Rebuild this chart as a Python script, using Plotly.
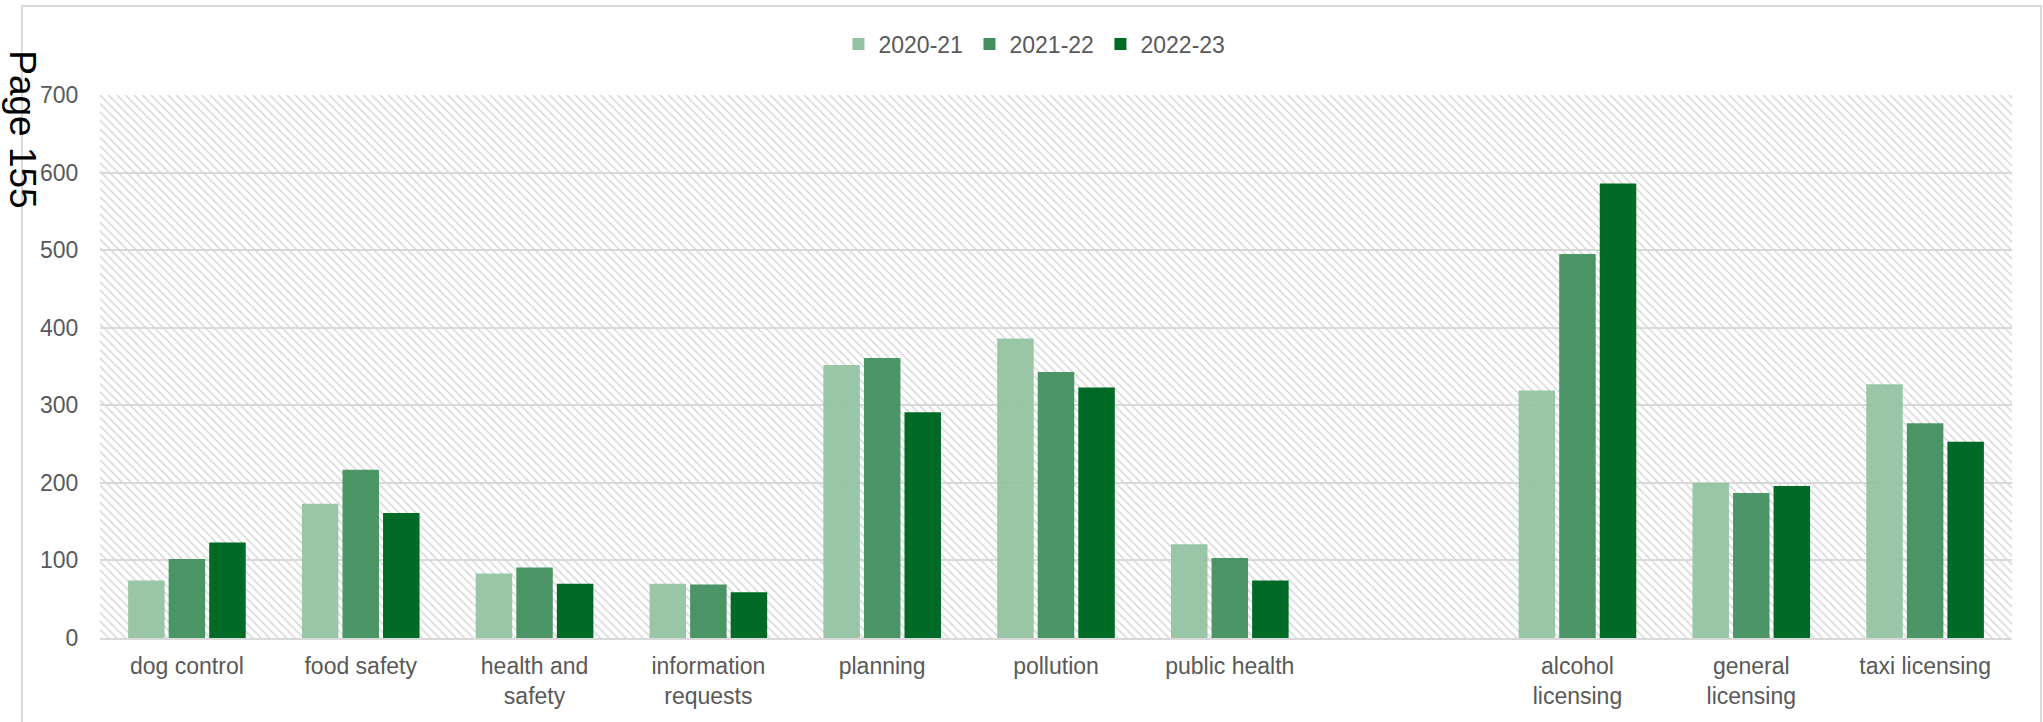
import plotly.graph_objects as go

categories = ["dog control", "food safety", "health and<br>safety", "information<br>requests",
              "planning", "pollution", "public health", "", "alcohol<br>licensing",
              "general<br>licensing", "taxi licensing"]
series_names = ["2020-21", "2021-22", "2022-23"]
v2020_21 = [74, 173, 83, 70, 352, 386, 121, None, 319, 200, 327]
v2021_22 = [102, 217, 91, 69, 361, 343, 103, None, 495, 187, 277]
v2022_23 = [123, 161, 70, 59, 291, 323, 74, None, 586, 196, 253]
y_ticks = [0, 100, 200, 300, 400, 500, 600, 700]

colors = ["#93C2A2", "#428F5F", "#006A27"]
opac = [0.92, 0.95, 1.0]
xs = list(range(len(categories)))

fig = go.Figure()

# hatched plot-area background
fig.add_trace(go.Scatter(
    x=[-0.5, len(categories) - 0.5, len(categories) - 0.5, -0.5, -0.5],
    y=[0, 0, y_ticks[-1], y_ticks[-1], 0],
    xaxis="x", yaxis="y", mode="lines", line=dict(width=0),
    fill="toself", fillcolor="rgba(0,0,0,0)",
    fillpattern=dict(shape="\\", fgcolor="#d6d6d6", bgcolor="rgba(255,255,255,0)",
                     size=6, solidity=0.25, fillmode="replace"),
    hoverinfo="skip", showlegend=False))

for name, vals, c, o in zip(series_names, [v2020_21, v2021_22, v2022_23], colors, opac):
    fig.add_trace(go.Bar(
        x=xs, y=vals, name=name, xaxis="x2", yaxis="y",
        marker=dict(color=c, opacity=o, line=dict(width=0)),
    ))

font_fam = "Liberation Sans, Arial, sans-serif"
fig.update_layout(
    width=2043, height=722,
    margin=dict(l=100, r=31, t=95, b=84),
    paper_bgcolor="white", plot_bgcolor="white",
    barmode="group", bargap=0.3, bargroupgap=0.1,
    font=dict(family=font_fam, color="#595959", size=23),
    showlegend=True,
    legend=dict(orientation="h", x=0.489, y=1.094, xanchor="center", yanchor="middle",
                font=dict(size=23, color="#595959"), itemwidth=30,
                entrywidth=86, entrywidthmode="pixels",
                traceorder="normal", bgcolor="rgba(0,0,0,0)"),
    xaxis=dict(range=[-0.5, len(categories) - 0.5], showticklabels=False, showgrid=False,
               zeroline=False, showline=False, fixedrange=True),
    xaxis2=dict(overlaying="x", range=[-0.5, len(categories) - 0.5],
                tickmode="array", tickvals=xs, ticktext=categories,
                showgrid=False, zeroline=False, showline=True, linecolor="#d9d9d9",
                linewidth=2, ticks="outside", ticklen=6, tickcolor="rgba(0,0,0,0)",
                side="bottom", tickfont=dict(size=23, color="#595959"), anchor="y"),
    yaxis=dict(range=[0, y_ticks[-1]], tickvals=y_ticks, showgrid=True, gridcolor="#d9d9d9",
               gridwidth=1.5, zeroline=False, showline=False,
               ticks="outside", ticklen=16, tickcolor="rgba(0,0,0,0)",
               tickfont=dict(size=23, color="#595959")),
)

# chart-area border
fig.add_shape(type="rect", xref="paper", yref="paper",
              x0=-0.0408, x1=1.0152, y0=-0.2, y1=1.1639,
              line=dict(color="#d9d9d9", width=2), fillcolor="rgba(0,0,0,0)", layer="below")

fig.add_annotation(text="Page 155", xref="paper", yref="paper", x=-0.0403, y=0.937,
                   xanchor="center", yanchor="middle", textangle=90, showarrow=False,
                   font=dict(family=font_fam, size=37, color="black"))

fig.write_html("out.html", config={"displayModeBar": False},
               post_script="document.body.style.margin='0';document.body.style.overflow='hidden';")
